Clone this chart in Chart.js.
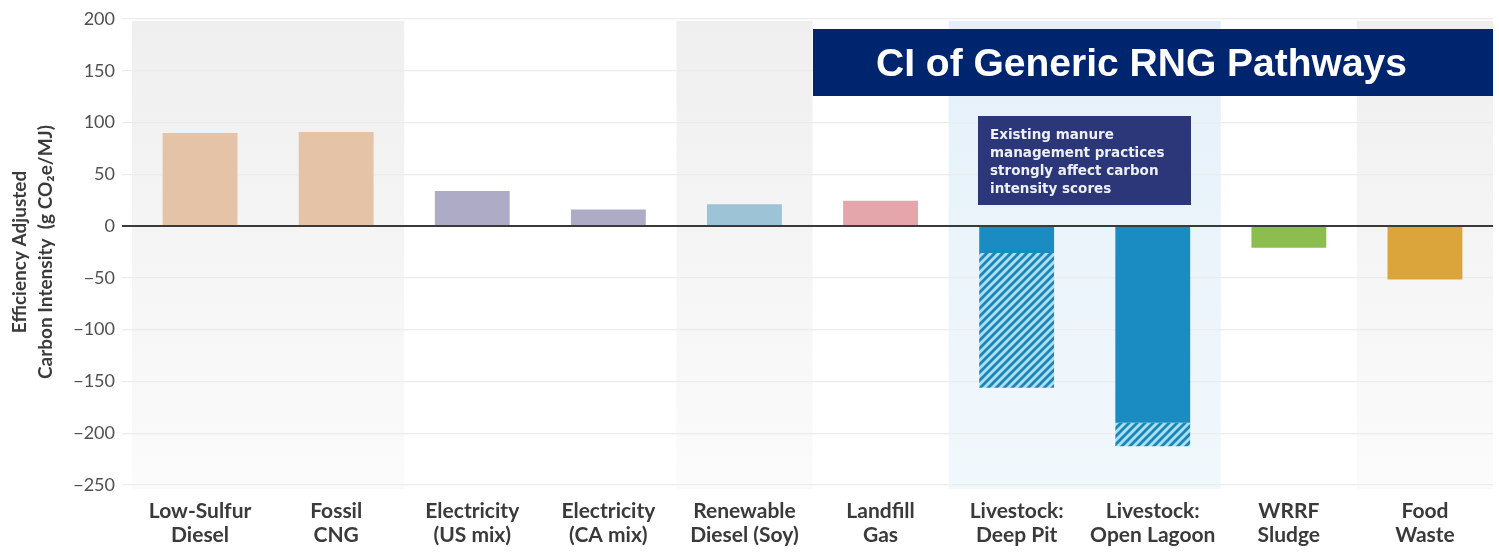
<!DOCTYPE html>
<html>
<head>
<meta charset="utf-8">
<script src="https://cdn.jsdelivr.net/npm/chart.js@4.4.1/dist/chart.umd.min.js"></script>
<style>
  html, body { margin: 0; padding: 0; background: #fff; }
  #wrap { width: 1499px; height: 553px; position: relative; }
</style>
</head>
<body>
<div id="wrap"><canvas id="chart"></canvas></div>
<script>
// values (g CO2e/MJ)
const categories = [
    ['Low-Sulfur', 'Diesel'], ['Fossil', 'CNG'], ['Electricity', '(US mix)'],
    ['Electricity', '(CA mix)'], ['Renewable', 'Diesel (Soy)'], ['Landfill', 'Gas'],
    ['Livestock:', 'Deep Pit'], ['Livestock:', 'Open Lagoon'], ['WRRF', 'Sludge'], ['Food', 'Waste']
];
const solidValues = [90, 91, 34, 16, 21, 24.5, -26, -190, -21, -51.5];
const hatchedValues = [null, null, null, null, null, null, -130, -22.5, null, null];
const barColors = ['#e5c3a7', '#e5c3a7', '#aeabc7', '#aeabc7', '#9dc3d7',
    '#e4a6aa', '#1a8cc1', '#1a8cc1', '#8bbe4f', '#dba53b'];
const yTicks = [-250, -200, -150, -100, -50, 0, 50, 100, 150, 200];

// background bands behind groups of categories
const bands = [
    { from: 0, to: 1, top: '#f0efef', bottom: '#fbfbfb' },
    { from: 4, to: 4, top: '#f0efef', bottom: '#fbfbfb' },
    { from: 6, to: 7, top: '#e4f0f9', bottom: '#f1f8fc' },
    { from: 9, to: 9, top: '#f0efef', bottom: '#fbfbfb' }
];

function hatchPattern() {
    const c = document.createElement('canvas');
    c.width = 8; c.height = 8;
    const g = c.getContext('2d');
    g.fillStyle = '#a9e0f5';
    g.fillRect(0, 0, 8, 8);
    g.strokeStyle = '#1d84b6';
    g.lineWidth = 2.8;
    g.beginPath();
    g.moveTo(-2, 10); g.lineTo(10, -2);
    g.moveTo(-6, 6); g.lineTo(6, -6);
    g.moveTo(2, 14); g.lineTo(14, 2);
    g.stroke();
    return g.createPattern(c, 'repeat');
}

const bandPlugin = {
    id: 'bands',
    beforeDraw(chart) {
        const { ctx, chartArea, scales } = chart;
        const half = (scales.x.getPixelForValue(1) - scales.x.getPixelForValue(0)) / 2;
        bands.forEach(b => {
            const x0 = scales.x.getPixelForValue(b.from) - half;
            const x1 = scales.x.getPixelForValue(b.to) + half;
            const y0 = chartArea.top + 2, y1 = chartArea.bottom + 4;
            const grad = ctx.createLinearGradient(0, y0, 0, y1);
            grad.addColorStop(0, b.top);
            grad.addColorStop(1, b.bottom);
            ctx.fillStyle = grad;
            ctx.fillRect(x0, y0, x1 - x0, y1 - y0);
        });
    }
};

const notePlugin = {
    id: 'notes',
    afterDraw(chart) {
        const ctx = chart.ctx;
        ctx.save();
        // title box
        ctx.fillStyle = '#00256f';
        ctx.fillRect(813, 29, 680, 67);
        ctx.fillStyle = '#ffffff';
        ctx.font = 'bold 39px "Liberation Sans", Arial, sans-serif';
        ctx.textBaseline = 'alphabetic';
        ctx.textAlign = 'left';
        ctx.fillText('CI of Generic RNG Pathways', 876, 76);
        // annotation box
        ctx.fillStyle = '#2c3779';
        ctx.fillRect(978, 116, 213, 89);
        ctx.fillStyle = '#eef0f7';
        ctx.textBaseline = 'middle';
        ctx.font = 'bold 13.5px "DejaVu Sans", sans-serif';
        const lines = ['Existing manure', 'management practices', 'strongly affect carbon', 'intensity scores'];
        lines.forEach((t, i) => ctx.fillText(t, 990, 135 + i * 18));
        ctx.restore();
    }
};

const ctx = document.getElementById('chart').getContext('2d');
const myChart = new Chart(ctx, {
    type: 'bar',
    data: {
        labels: categories,
        datasets: [{
            label: 'Carbon intensity',
            data: solidValues,
            backgroundColor: barColors,
            borderWidth: 0
        }, {
            label: 'Range',
            data: hatchedValues,
            backgroundColor: hatchPattern(),
            borderWidth: 0
        }]
    },
    options: {
        responsive: true,
        maintainAspectRatio: false,
        animation: false,
        layout: { padding: { top: 19, right: 6, bottom: 0, left: 0 } },
        categoryPercentage: 1,
        barPercentage: 0.55,
        plugins: {
            legend: { display: false },
            tooltip: { enabled: false }
        },
        scales: {
            x: {
                stacked: true,
                afterFit: scale => { scale.height = 68; },
                grid: { display: false, drawTicks: false },
                border: { display: false },
                ticks: {
                    padding: 14,
                    autoSkip: false,
                    color: '#3a3a3a',
                    font: { family: 'Lato', size: 21, weight: 'bold', lineHeight: 1.14 },
                    maxRotation: 0
                }
            },
            y: {
                stacked: true,
                min: -250,
                max: 200,
                afterBuildTicks: scale => { scale.ticks = yTicks.map(v => ({ value: v })); },
                afterFit: scale => { scale.width = 132; },
                grid: {
                    tickLength: 10,
                    color: c => c.tick && c.tick.value === 0 ? '#3a3a3a' : '#ececec',
                    lineWidth: c => c.tick && c.tick.value === 0 ? 2 : 1.2
                },
                border: { display: false },
                ticks: {
                    padding: 7,
                    color: '#505050',
                    font: { family: 'Lato', size: 18 },
                    callback: v => String(v).replace('-', '\u2212')
                },
                title: {
                    display: true,
                    text: ['Efficiency Adjusted', 'Carbon Intensity  (g CO\u2082e/MJ)'],
                    color: '#3a3a3a',
                    font: { family: 'Lato', size: 19, weight: 'bold', lineHeight: 1.35 },
                    padding: { top: 7, bottom: 0 }
                }
            }
        }
    },
    plugins: [bandPlugin, notePlugin]
});
</script>
</body>
</html>
